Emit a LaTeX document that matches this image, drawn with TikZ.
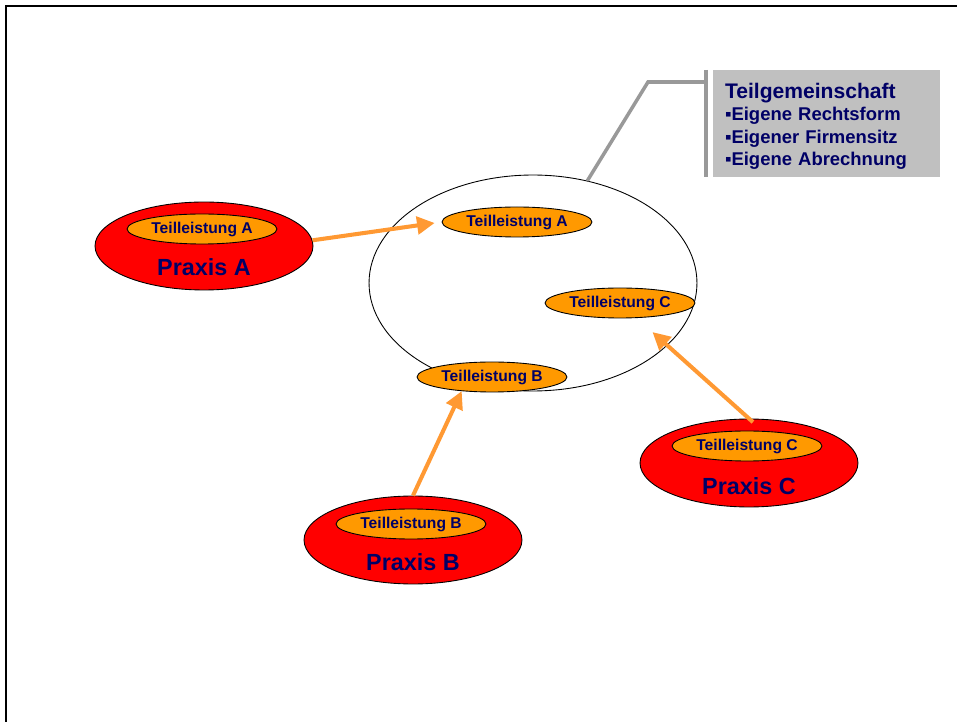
\documentclass[tikz,border=0pt]{standalone}
\usepackage{fontspec}
\setmainfont{Liberation Sans}
\usepackage{tikz}
\usetikzlibrary{
  positioning,
  shapes.geometric,
  arrows.meta
}
\definecolor{navy}{RGB}{0,0,102}
\definecolor{praxisred}{RGB}{255,0,0}
\definecolor{leistorange}{RGB}{255,153,0}
\definecolor{floworange}{RGB}{255,153,51}
\definecolor{calloutgray}{RGB}{153,153,153}
\definecolor{boxgray}{RGB}{192,192,192}

\tikzset{
  praxis/.style={ellipse, draw=black, line width=0.5pt, fill=praxisred,
    minimum width=4.36cm, minimum height=1.76cm, inner sep=0pt},
  leistung/.style={ellipse, draw=black, line width=0.5pt, fill=leistorange,
    minimum width=3cm, minimum height=0.6cm, inner sep=0pt, text=navy,
    font=\bfseries\fontsize{8.9}{10}\selectfont},
  praxislabel/.style={text=navy, inner sep=0pt,
    font=\bfseries\fontsize{13.3}{15}\selectfont},
  flow/.style={->, draw=floworange, line width=2.3pt},
  callout/.style={draw=calloutgray, line width=2pt},
  infobox/.style={fill=boxgray, minimum width=4.54cm, minimum height=2.14cm,
    inner sep=0pt},
  infotext/.style={text=navy, align=left, text width=4.06cm, inner sep=0pt,
    font=\bfseries\fontsize{10.5}{12.8}\selectfont}
}

\begin{document}
\begin{tikzpicture}[x=0.02cm,y=-0.02cm,>={Triangle[length=10pt,width=10pt]}]
  \useasboundingbox (0,0) rectangle (957,722);
  % frame
  \draw[line width=1.2pt] (6,722) -- (6,6) -- (957,6);

  % Teilgemeinschaft
  \node[ellipse, draw=black, line width=0.5pt, minimum width=6.56cm,
    minimum height=4.32cm, inner sep=0pt] (tg) at (533,283) {};
  \node[leistung] (gA) at (517,222) {Teilleistung A};
  \node[leistung] (gC) at (620,303) {Teilleistung C};
  \node[leistung] (gB) at (492,377) {Teilleistung B};

  % Praxen
  \node[praxis] (pA) at (204,246) {};
  \node[leistung] (lA) at (202,229) {Teilleistung A};
  \node[praxislabel] (nA) at (204,267) {Praxis A};

  \node[praxis] (pB) at (413,540) {};
  \node[leistung] (lB) at (411,524) {Teilleistung B};
  \node[praxislabel] (nB) at (413,562) {Praxis B};

  \node[praxis] (pC) at (749,463) {};
  \node[leistung] (lC) at (747,446) {Teilleistung C};
  \node[praxislabel] (nC) at (749,486) {Praxis C};

  % arrows
  \draw[flow, shorten >=4pt] (pA.3) -- (gA.west);
  \draw[flow] (pB.north) -- (gB.205);
  \draw[flow, shorten <=-3pt, shorten >=12pt] (pC.north) -- (gC);

  % callout
  \coordinate (knee) at (648,82);
  \coordinate (bartop) at (706,70);
  \coordinate (barbot) at (706,177);
  \draw[callout] (tg.62) -- (knee) -- (bartop |- knee);
  \draw[callout, line width=2.4pt] (bartop) -- (barbot);
  \node[infobox] (box) at (826.5,123.5) {};
  \node[infotext] (info) at (826.5,126.5)
    {{\fontsize{12}{12.8}\selectfont Teilgemeinschaft}\\
     ▪Eigene Rechtsform\\
     ▪Eigener Firmensitz\\
     ▪Eigene Abrechnung};
\end{tikzpicture}
\end{document}
